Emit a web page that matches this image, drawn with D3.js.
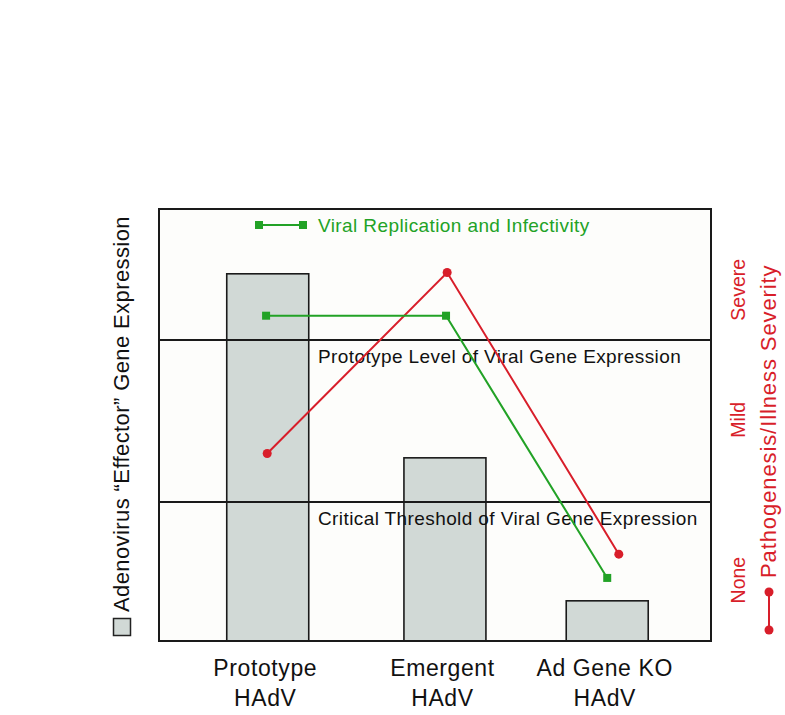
<!DOCTYPE html>
<html>
<head>
<meta charset="utf-8">
<script src="https://cdn.jsdelivr.net/npm/d3@7"></script>
<style>
  body { margin: 0; background: #fff; }
  svg text { font-family: "Liberation Sans", Arial, sans-serif; }
</style>
</head>
<body>
<svg id="drawing_region"></svg>
<script>
// categories and their positions along the x axis (0..10 across the frame)
var categories = ["Prototype HAdV", "Emergent HAdV", "Ad Gene KO HAdV"];
var categoryPos = [1.97, 5.18, 8.12];

// gene expression bars (0..100 on the left axis)
var expression = [85.0, 42.4, 9.3];

// reference levels of expression
var levelNames = ["Prototype Level of Viral Gene Expression", "Critical Threshold of Viral Gene Expression"];
var levelValues = [69.7, 32.2];

// viral replication and infectivity (green)
var replicationX = [1.94, 5.2, 8.12];
var replication = [75.3, 75.3, 14.6];

// pathogenesis / illness severity (red)
var severityX = [1.96, 5.22, 8.33];
var severity = [43.4, 85.3, 20.1];

// right axis tick labels
var severityLabels = ["None", "Mild", "Severe"];
var severityTicks = [14.1, 51.2, 81.3];

var green = "#22a226";
var red = "#d81e2a";
var barFill = "#d1d9d6";

var config = {
    width: 785,
    height: 715,
    margin: {top: 209, right: 74, bottom: 74, left: 159}
};

var svg = d3.select('#drawing_region')
    .attr('width', config.width)
    .attr('height', config.height);

var inner_width = config.width - config.margin.left - config.margin.right;
var inner_height = config.height - config.margin.top - config.margin.bottom;

var chart = svg.append('g')
    .attr('transform', `translate(${config.margin.left}, ${config.margin.top})`);

var xscale = d3.scaleLinear().domain([0, 10]).range([0, inner_width]);
var yscale = d3.scaleLinear().domain([0, 100]).range([inner_height, 0]);

// plot background
chart.append('rect')
    .attr('width', inner_width)
    .attr('height', inner_height)
    .attr('fill', '#fdfdfb');

// bars
var barWidth = 82;
chart.selectAll('rect.bar')
    .data(expression)
    .join('rect')
    .attr('class', 'bar')
    .attr('x', (d, i) => xscale(categoryPos[i]) - barWidth / 2)
    .attr('y', d => yscale(d))
    .attr('width', barWidth)
    .attr('height', d => yscale(0) - yscale(d))
    .attr('fill', barFill)
    .attr('stroke', '#1a1a1a')
    .attr('stroke-width', 1.6);

// level lines
chart.selectAll('line.level')
    .data(levelValues)
    .join('line')
    .attr('class', 'level')
    .attr('x1', 0)
    .attr('x2', inner_width)
    .attr('y1', d => yscale(d))
    .attr('y2', d => yscale(d))
    .attr('stroke', '#1a1a1a')
    .attr('stroke-width', 2);

chart.selectAll('text.level')
    .data(levelValues)
    .join('text')
    .attr('class', 'level')
    .attr('x', 159)
    .attr('y', d => yscale(d) + 23)
    .attr('font-size', '19px')
    .attr('letter-spacing', '0.4px')
    .attr('fill', '#111')
    .text((d, i) => levelNames[i]);

// lines
var line = d3.line().x(d => xscale(d[0])).y(d => yscale(d[1]));

var repPts = replication.map((v, i) => [replicationX[i], v]);
var sevPts = severity.map((v, i) => [severityX[i], v]);

chart.append('path')
    .attr('d', line(sevPts))
    .attr('fill', 'none')
    .attr('stroke', red)
    .attr('stroke-width', 2);

chart.selectAll('circle.sev')
    .data(sevPts)
    .join('circle')
    .attr('class', 'sev')
    .attr('cx', d => xscale(d[0]))
    .attr('cy', d => yscale(d[1]))
    .attr('r', 4.5)
    .attr('fill', red);

chart.append('path')
    .attr('d', line(repPts))
    .attr('fill', 'none')
    .attr('stroke', green)
    .attr('stroke-width', 2);

chart.selectAll('rect.rep')
    .data(repPts)
    .join('rect')
    .attr('class', 'rep')
    .attr('x', d => xscale(d[0]) - 4)
    .attr('y', d => yscale(d[1]) - 4)
    .attr('width', 8)
    .attr('height', 8)
    .attr('fill', green);

// green legend inside plot
var leg = chart.append('g').attr('transform', 'translate(100, 16)');
leg.append('line')
    .attr('x1', 0).attr('x2', 44)
    .attr('stroke', green).attr('stroke-width', 2);
leg.selectAll('rect')
    .data([0, 44])
    .join('rect')
    .attr('x', d => d - 4).attr('y', -4)
    .attr('width', 8).attr('height', 8)
    .attr('fill', green);
leg.append('text')
    .attr('x', 59).attr('y', 7)
    .attr('font-size', '19px')
    .attr('letter-spacing', '0.4px')
    .attr('fill', green)
    .text('Viral Replication and Infectivity');

// frame
chart.append('rect')
    .attr('width', inner_width)
    .attr('height', inner_height)
    .attr('fill', 'none')
    .attr('stroke', '#1a1a1a')
    .attr('stroke-width', 2);

// x axis with two-line labels
var xaxis_group = chart.append('g')
    .attr('transform', `translate(0, ${inner_height})`)
    .call(d3.axisBottom(xscale).tickValues(categoryPos).tickSize(0).tickFormat((d, i) => categories[i]));
xaxis_group.select('.domain').remove();
xaxis_group.selectAll('.tick text')
    .attr('font-size', '23px')
    .attr('letter-spacing', '0.6px')
    .attr('fill', '#111')
    .attr('y', 0)
    .attr('dy', null)
    .each(function(d, i) {
        var t = d3.select(this);
        var words = categories[i].split(' ');
        var last = words.pop();
        t.text(null);
        t.append('tspan').attr('x', -3).attr('y', 35).text(words.join(' '));
        t.append('tspan').attr('x', -3).attr('y', 65).text(last);
    });

// left axis label with grey swatch
svg.append('rect')
    .attr('x', 113.5).attr('y', 618.5)
    .attr('width', 17).attr('height', 17)
    .attr('fill', barFill)
    .attr('stroke', '#222')
    .attr('stroke-width', 1.5);
svg.append('text')
    .attr('transform', 'translate(129, 612) rotate(-90)')
    .attr('font-size', '22px')
    .attr('letter-spacing', '0.4px')
    .attr('fill', '#111')
    .text('Adenovirus \u201cEffector\u201d Gene Expression');

// right axis: severity levels
svg.selectAll('text.sevtick')
    .data(severityTicks)
    .join('text')
    .attr('class', 'sevtick')
    .attr('transform', d => `translate(745, ${config.margin.top + yscale(d)}) rotate(-90)`)
    .attr('text-anchor', 'middle')
    .attr('font-size', '19.5px')
    .attr('fill', red)
    .text((d, i) => severityLabels[i]);

svg.append('text')
    .attr('transform', 'translate(776, 578) rotate(-90)')
    .attr('font-size', '22px')
    .attr('letter-spacing', '0.9px')
    .attr('fill', red)
    .text('Pathogenesis/Illness Severity');

// red legend swatch
svg.append('line')
    .attr('x1', 769).attr('x2', 769)
    .attr('y1', 592).attr('y2', 630)
    .attr('stroke', red).attr('stroke-width', 2);
svg.selectAll('circle.sevleg')
    .data([592, 630])
    .join('circle')
    .attr('class', 'sevleg')
    .attr('cx', 769).attr('cy', d => d)
    .attr('r', 4.5)
    .attr('fill', red);
</script>
</body>
</html>
